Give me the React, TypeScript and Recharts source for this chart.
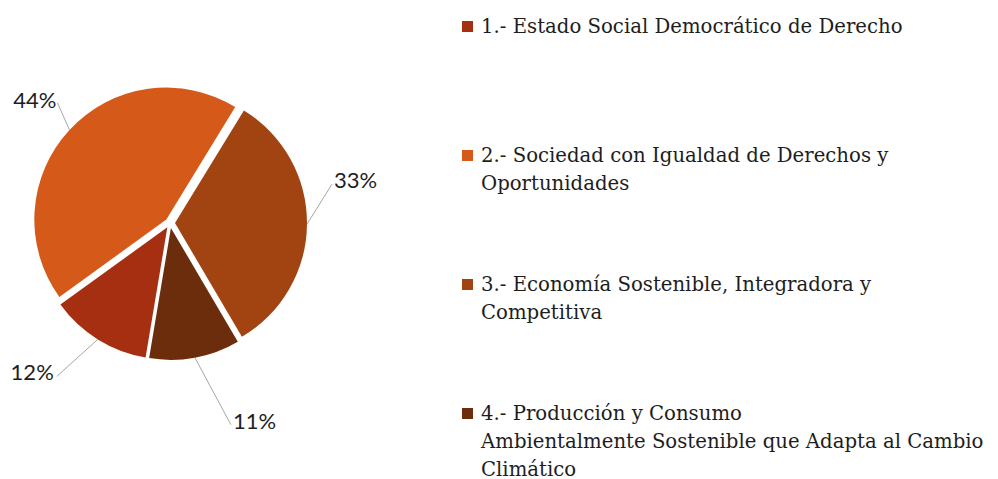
import React from "react";
import { PieChart, Pie, Cell, Legend, Sector } from "recharts";

const categories = [
  "1.- Estado Social Democrático de Derecho",
  "2.- Sociedad con Igualdad de Derechos y\nOportunidades",
  "3.- Economía Sostenible, Integradora y\nCompetitiva",
  "4.- Producción y Consumo\nAmbientalmente Sostenible que Adapta al Cambio\nClimático",
];
const shares = [12.4, 43.7, 32.8, 11.1];
const colors = ["#A52F10", "#D55A1A", "#A14411", "#6B2D0C"];

const data = categories.map((name, i) => ({ name, value: shares[i] }));

const RADIAN = Math.PI / 180;
const EXPLODE = 5;

// where each leader line ends, relative to where it leaves the pie
const labelOffsets = [
  { dx: -41, dy: 37, anchor: "end", tx: -3, ty: 4 },
  { dx: -12, dy: -27, anchor: "end", tx: -1, ty: 5 },
  { dx: 25, dy: -40, anchor: "start", tx: 2, ty: 4 },
  { dx: 36, dy: 67, anchor: "start", tx: 2, ty: 4 },
];

const explodedSector = (props: any) => {
  const { cx, cy, midAngle } = props;
  const ox = Math.cos(-midAngle * RADIAN) * EXPLODE;
  const oy = Math.sin(-midAngle * RADIAN) * EXPLODE;
  return <Sector {...props} cx={cx + ox} cy={cy + oy} stroke="none" />;
};

const renderLabel = (props: any) => {
  const { cx, cy, midAngle, outerRadius, percent, index } = props;
  const r = outerRadius + EXPLODE;
  const sx = cx + r * Math.cos(-midAngle * RADIAN);
  const sy = cy + r * Math.sin(-midAngle * RADIAN);
  const o = labelOffsets[index];
  const ex = sx + o.dx;
  const ey = sy + o.dy;
  return (
    <g>
      <line x1={sx} y1={sy} x2={ex} y2={ey} stroke="#a6a6a6" strokeWidth={1} />
      <text
        x={ex + o.tx}
        y={ey + o.ty}
        textAnchor={o.anchor}
        fontFamily="Lato, sans-serif"
        fontSize={22}
        fill="#1e1e1e"
      >
        {`${Math.round(percent * 100)}%`}
      </text>
    </g>
  );
};

const renderLegend = (props: any) => {
  const { payload } = props;
  return (
    <div>
      {payload.map((entry: any, i: number) => (
        <div
          key={i}
          style={{
            position: "relative",
            height: i < payload.length - 1 ? 129 : 76,
            fontFamily: "'DejaVu Serif', serif",
          }}
        >
          <div
            style={{
              position: "absolute",
              left: 0,
              top: 8,
              width: 11,
              height: 11,
              background: entry.color,
            }}
          />
          <div
            style={{
              position: "absolute",
              left: 19,
              top: 0,
              width: "max-content",
              fontSize: 19.7,
              lineHeight: "28px",
              color: "#1e1e1e",
              whiteSpace: "pre",
            }}
          >
            {entry.value}
          </div>
        </div>
      ))}
    </div>
  );
};

export default function App() {
  return (
    <div style={{ position: "absolute", left: 0, top: 0, background: "#fff" }}>
      <PieChart width={998} height={479} margin={{ top: 0, right: 0, bottom: 0, left: 0 }}>
        <Pie
          data={data}
          dataKey="value"
          nameKey="name"
          cx={170}
          cy={223}
          outerRadius={132}
          startAngle={260.5}
          endAngle={-99.5}
          shape={explodedSector}
          label={renderLabel}
          labelLine={false}
          isAnimationActive={false}
        >
          {data.map((d, i) => (
            <Cell key={d.name} fill={colors[i]} />
          ))}
        </Pie>
        <Legend
          content={renderLegend}
          layout="vertical"
          wrapperStyle={{ position: "absolute", left: 462, top: 13, width: 536 }}
        />
      </PieChart>
    </div>
  );
}
